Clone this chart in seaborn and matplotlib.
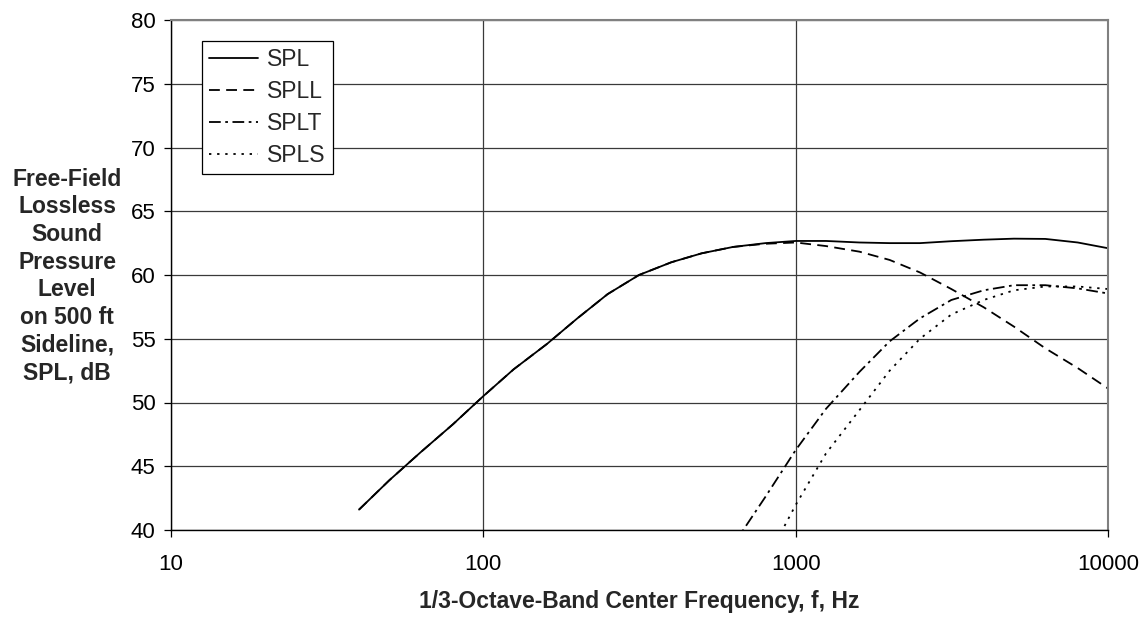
import numpy as np
import pandas as pd
import matplotlib
matplotlib.use("Agg")
import matplotlib.pyplot as plt
import seaborn as sns

# 1/3-octave band centre frequencies (Hz)
freq = [40, 50, 63, 80, 100, 125, 160, 200, 250, 315, 400, 500, 630, 800,
        1000, 1250, 1600, 2000, 2500, 3150, 4000, 5000, 6300, 8000, 10000]

spl = [41.6, 43.9, 46.1, 48.3, 50.5, 52.6, 54.6, 56.6, 58.5, 60.0, 61.0, 61.7,
       62.2, 62.5, 62.67, 62.67, 62.55, 62.5, 62.5, 62.65, 62.77, 62.85, 62.83,
       62.55, 62.1]
spll = [41.6, 43.9, 46.1, 48.3, 50.5, 52.6, 54.6, 56.6, 58.5, 60.0, 61.0, 61.7,
        62.2, 62.45, 62.55, 62.27, 61.83, 61.18, 60.2, 58.9, 57.47, 55.95, 54.25,
        52.7, 51.1]
splt_freq = [630, 800, 1000, 1250, 1600, 2000, 2500, 3150, 4000, 5000, 6300, 8000, 10000]
splt = [38.8, 42.6, 46.27, 49.5, 52.4, 54.8, 56.6, 58.04, 58.8, 59.2, 59.2, 58.95, 58.55]
spls_freq = [800, 1000, 1250, 1600, 2000, 2500, 3150, 4000, 5000, 6300, 8000, 10000]
spls = [37.5, 41.96, 46.0, 49.4, 52.5, 55.0, 56.9, 58.04, 58.8, 59.1, 59.1, 58.9]

series_names = ["SPL", "SPLL", "SPLT", "SPLS"]
x_ticks = [10, 100, 1000, 10000]
y_ticks = [40, 45, 50, 55, 60, 65, 70, 75, 80]

df = pd.concat([
    pd.DataFrame({"f": freq, "dB": spl, "series": "SPL"}),
    pd.DataFrame({"f": freq, "dB": spll, "series": "SPLL"}),
    pd.DataFrame({"f": splt_freq, "dB": splt, "series": "SPLT"}),
    pd.DataFrame({"f": spls_freq, "dB": spls, "series": "SPLS"}),
], ignore_index=True)

sns.set_theme(style="white")
plt.rcParams["font.family"] = ["Liberation Sans", "DejaVu Sans"]

fig = plt.figure(figsize=(11.44, 6.19), dpi=100)
ax = fig.add_axes([171 / 1144, 1 - 530 / 619, (1108 - 171) / 1144, (530 - 20) / 619])

dashes = {"SPL": "", "SPLL": (6, 3.5), "SPLT": (6.5, 2.5, 1.5, 2.5), "SPLS": (1.3, 3.2)}
sns.lineplot(data=df, x="f", y="dB", style="series", style_order=series_names,
             dashes=dashes, color="black", linewidth=1.3, ax=ax, sort=False,
             estimator=None, legend="brief")

ax.set_xscale("log")
ax.set_xlim(10, 10000)
ax.set_ylim(40, 80)
ax.set_xticks(x_ticks)
ax.set_xticklabels([str(t) for t in x_ticks])
ax.xaxis.set_minor_locator(matplotlib.ticker.NullLocator())
ax.set_yticks(y_ticks)
ax.set_yticklabels([str(t) for t in y_ticks])

ax.grid(True, which="major", color="#3a3a3a", linewidth=0.9)
ax.set_axisbelow(True)
for s in ["left", "bottom"]:
    ax.spines[s].set_color("black")
    ax.spines[s].set_linewidth(1.0)
for s in ["top", "right"]:
    ax.spines[s].set_color("#808080")
    ax.spines[s].set_linewidth(1.5)

ax.tick_params(axis="both", which="major", labelsize=16, colors="black",
               length=5, width=0.9, direction="out", left=True, bottom=True)
ax.tick_params(axis="x", pad=12)
ax.tick_params(axis="y", pad=6)

ax.set_xlabel("1/3-Octave-Band Center Frequency, f, Hz", fontsize=16.5,
              fontweight="bold", labelpad=11)
ax.set_ylabel("")
fig.text(67 / 1144, 1 - 276 / 619,
         "Free-Field\nLossless\nSound\nPressure\nLevel\non 500 ft\nSideline,\nSPL, dB",
         ha="center", va="center", fontsize=16.5, fontweight="bold",
         linespacing=1.26)

handles, labels = ax.get_legend_handles_labels()
leg = ax.legend(handles, labels, loc="upper left",
                bbox_to_anchor=(202 / 1144, 1 - 41 / 619),
                bbox_transform=fig.transFigure, fontsize=16.5, frameon=True,
                fancybox=False, edgecolor="black", framealpha=1,
                handlelength=2.15, handletextpad=0.4, labelspacing=0.4,
                borderpad=0.3, borderaxespad=0)
leg.get_frame().set_linewidth(0.9)
for line in leg.get_lines():
    line.set_color("black")
    line.set_linewidth(1.3)

fig.savefig("out.png", dpi=100, facecolor="white")
